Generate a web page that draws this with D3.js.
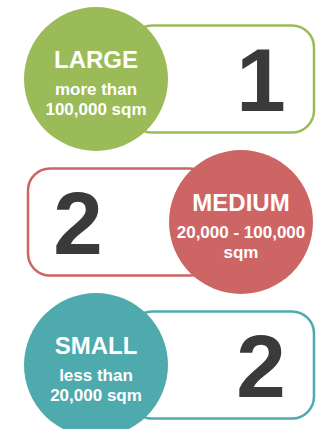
<!DOCTYPE html>
<html>
<head>
<meta charset="utf-8">
<script src="https://cdn.jsdelivr.net/npm/d3@7"></script>
<style>
  body { margin: 0; background: #fff; }
  svg { display: block; font-family: "Liberation Sans", Arial, sans-serif; }
</style>
</head>
<body>
<div id="chart"></div>
<script>
// data
const categories = ["LARGE", "MEDIUM", "SMALL"];
const subLabels = [["more than", "100,000 sqm"], ["20,000 - 100,000", "sqm"], ["less than", "20,000 sqm"]];
const counts = [1, 2, 2];
const colors = ["#9bbb59", "#cd6565", "#4faaad"];

const width = 317, height = 429;

const svg = d3.select("#chart").append("svg")
    .attr("width", width)
    .attr("height", height);

// row centres
const y = d3.scalePoint()
    .domain(categories)
    .range([79, 365]);

const rows = categories.map((c, i) => ({
    cat: c, sub: subLabels[i], count: counts[i], color: colors[i], flip: i % 2 === 1
}));

const r = 72;
const boxH = 107;

const g = svg.selectAll("g.row")
    .data(rows)
    .enter().append("g")
    .attr("class", "row")
    .attr("transform", d => `translate(0,${y(d.cat)})`);

// rounded box
g.append("rect")
    .attr("x", d => d.flip ? 28 : 130)
    .attr("y", -boxH / 2)
    .attr("width", 184)
    .attr("height", boxH)
    .attr("rx", 22)
    .attr("fill", "#fff")
    .attr("stroke", d => d.color)
    .attr("stroke-width", 2.5);

// count
g.append("text")
    .attr("x", d => d.flip ? 78 : 261)
    .attr("y", 32)
    .attr("text-anchor", "middle")
    .attr("font-size", 89)
    .attr("font-weight", "bold")
    .attr("fill", "#3a3a3a")
    .text(d => d.count);

// circle
const cx = d => d.flip ? 241 : 96;
g.append("circle")
    .attr("cx", cx)
    .attr("cy", 0)
    .attr("r", r)
    .attr("fill", d => d.color);

g.append("text")
    .attr("x", cx)
    .attr("y", -11)
    .attr("text-anchor", "middle")
    .attr("font-size", 24)
    .attr("font-weight", "bold")
    .attr("fill", "#fff")
    .text(d => d.cat);

g.append("text")
    .attr("x", cx)
    .attr("y", 16)
    .attr("text-anchor", "middle")
    .attr("font-size", 17)
    .attr("font-weight", "bold")
    .attr("fill", "#fff")
    .text(d => d.sub[0]);

g.append("text")
    .attr("x", cx)
    .attr("y", 36)
    .attr("text-anchor", "middle")
    .attr("font-size", 17)
    .attr("font-weight", "bold")
    .attr("fill", "#fff")
    .text(d => d.sub[1]);
</script>
</body>
</html>
